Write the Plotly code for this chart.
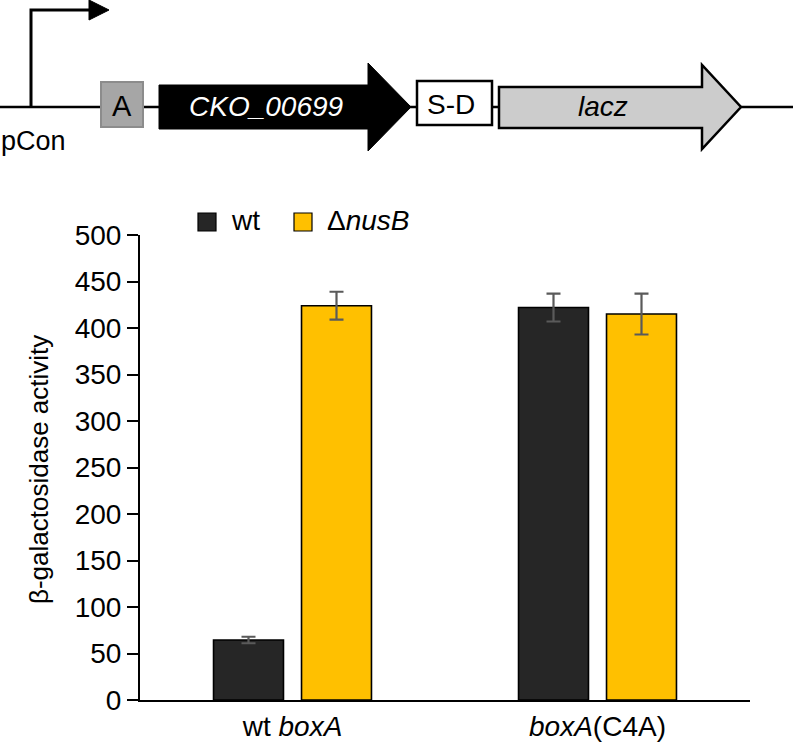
import plotly.graph_objects as go

# ---------------- data ----------------
categories = ["wt <i>boxA</i>", "<i>boxA</i>(C4A)"]
series_names = ["wt", "\u0394<i>nusB</i>"]
wt_values = [64.5, 422]
wt_errors = [3.5, 15]
nusb_values = [424, 415]
nusb_errors = [15, 22]
y_ticks = [0, 50, 100, 150, 200, 250, 300, 350, 400, 450, 500]
colors = ["#262626", "#FFC000"]

FONT = "Liberation Sans, Arial, Helvetica, sans-serif"
W, H = 795, 743

fig = go.Figure()
fig.add_trace(go.Bar(
    x=[0, 1], y=wt_values, name="wt",
    marker=dict(color=colors[0], line=dict(color="black", width=1.6)),
    error_y=dict(type="data", array=wt_errors, color="#5a5a5a", thickness=2.2, width=7),
    showlegend=False,
))
fig.add_trace(go.Bar(
    x=[0, 1], y=nusb_values, name="nusB",
    marker=dict(color=colors[1], line=dict(color="black", width=1.6)),
    error_y=dict(type="data", array=nusb_errors, color="#5a5a5a", thickness=2.2, width=7),
    showlegend=False,
))

# ---------------- schematic (pixel coordinate overlay axis) ----------------
shapes = []
shapes.append(dict(type="line", x0=0, x1=793, y0=107, y1=107, xref="x2", yref="y2",
                   line=dict(color="black", width=2.5), layer="above"))
shapes.append(dict(type="path", path="M31,108 L31,10 L90,10", xref="x2", yref="y2",
                   line=dict(color="black", width=3), layer="above"))
shapes.append(dict(type="path", path="M89,0 L109,10 L89,20 Z", xref="x2", yref="y2",
                   fillcolor="black", line=dict(color="black", width=1), layer="above"))
shapes.append(dict(type="rect", x0=101, x1=143, y0=82, y1=127, xref="x2", yref="y2",
                   fillcolor="#A6A6A6", line=dict(color="#8C8C8C", width=2), layer="above"))
shapes.append(dict(type="path",
                   path="M159,85 L368,85 L368,63 L411,107 L368,151 L368,129 L159,129 Z",
                   xref="x2", yref="y2", fillcolor="black", line=dict(color="black", width=1),
                   layer="above"))
shapes.append(dict(type="rect", x0=417, x1=492, y0=81, y1=125, xref="x2", yref="y2",
                   fillcolor="white", line=dict(color="black", width=2.5), layer="above"))
shapes.append(dict(type="path",
                   path="M499,87 L702,87 L702,65 L741,107 L702,149 L702,128 L499,128 Z",
                   xref="x2", yref="y2", fillcolor="#CCCCCC", line=dict(color="black", width=2.5),
                   layer="above"))

legend_x = [198, 294]
for lx, c in zip(legend_x, colors):
    shapes.append(dict(type="rect", x0=lx, x1=lx + 18, y0=213, y1=231, xref="x2", yref="y2",
                       fillcolor=c, line=dict(color="black", width=1.2), layer="above"))

annotations = [
    dict(x=122, y=106, text="A", font=dict(size=29, color="black")),
    dict(x=266, y=106, text="<i>CKO_00699</i>", font=dict(size=28, color="white")),
    dict(x=451, y=104, text="S-D", font=dict(size=28, color="black")),
    dict(x=603, y=106, text="<i>lacz</i>", font=dict(size=28, color="black")),
    dict(x=33, y=141, text="pCon", font=dict(size=27, color="black")),
    dict(x=39, y=470, text="\u03b2-galactosidase activity", textangle=-90,
         font=dict(size=26, color="black")),
]
for lx, name in zip(legend_x, series_names):
    annotations.append(dict(x=lx + 31, y=220, text=name, xanchor="left",
                            font=dict(size=28, color="black")))
for a in annotations:
    a.update(xref="x2", yref="y2", showarrow=False)
    a.setdefault("xanchor", "center")
    a["font"]["family"] = FONT

fig.update_layout(
    width=W, height=H,
    margin=dict(l=0, r=0, t=0, b=0),
    paper_bgcolor="white", plot_bgcolor="rgba(0,0,0,0)",
    font=dict(family=FONT, color="black"),
    barmode="group", bargap=0.423, bargroupgap=0.205,
    shapes=shapes, annotations=annotations,
    xaxis=dict(domain=[140 / W, 750 / W], range=[-0.5, 1.5],
               tickmode="array", tickvals=[0, 1], ticktext=categories,
               showline=True, linecolor="black", linewidth=2, ticks="",
               tickfont=dict(size=28, family=FONT), showgrid=False, zeroline=False,
               automargin=False, anchor="y"),
    yaxis=dict(domain=[43 / H, 508 / H], range=[0, 500],
               tickmode="array", tickvals=y_ticks,
               showline=True, linecolor="black", linewidth=2,
               ticks="outside", ticklen=11, tickwidth=1.5, tickcolor="black",
               tickfont=dict(size=28, family=FONT), showgrid=False, zeroline=False,
               automargin=False, anchor="x"),
    xaxis2=dict(domain=[0, 1], range=[0, W], visible=False, anchor="y2", fixedrange=True),
    yaxis2=dict(domain=[0, 1], range=[H, 0], visible=False, anchor="x2", fixedrange=True),
)

fig.write_html("out.html", config={"displayModeBar": False},
               post_script="document.body.style.margin='0px';")
